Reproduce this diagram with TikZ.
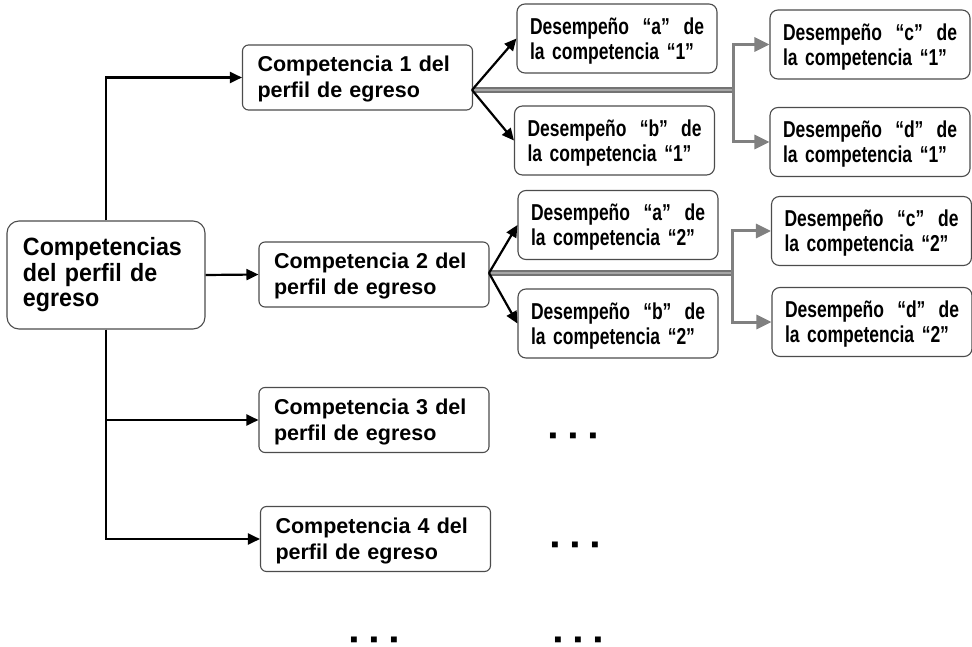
\documentclass[tikz,border=0pt]{standalone}
\usepackage{fontspec}
\setmainfont{Liberation Sans}
\newfontfamily\condfont{Liberation Sans}[FakeStretch=0.76]
\newfontfamily\leftfont{Liberation Sans}[FakeStretch=0.93]
\usetikzlibrary{arrows.meta}
\newcommand{\desemp}[2]{\rule{0pt}{21pt}\makebox[174pt][l]{Desempeño\hfill “#1”\hfill de}\\la competencia “#2”}
\newcommand{\sqdots}{\makebox[20pt]{■}\makebox[20pt]{■}\makebox[20pt]{■}}
\begin{document}
\begin{tikzpicture}[x=1pt,y=-1pt,
 box/.style={draw=black!70, line width=1.1pt, rounded corners=8pt, fill=white, inner sep=0pt, align=left},
 dbox/.style={box, minimum width=200pt, minimum height=69pt, text width=174pt, font=\condfont\fontsize{23}{25}\selectfont\bfseries},
 cbox/.style={box, rounded corners=6pt, minimum width=230pt, minimum height=65pt, text width=200pt, font=\fontsize{21.5}{26}\selectfont\bfseries},
 lbox/.style={box, rounded corners=12pt, minimum width=198pt, minimum height=108pt, text width=166pt, font=\leftfont\fontsize{25}{25.5}\selectfont\bfseries},
 arr/.style={draw=black, line width=2.2pt, -{Triangle[length=12pt,width=11pt]}},
 garr/.style={draw=black!50, line width=3pt, -{Triangle[length=15pt,width=14pt]}},
 trunk/.style={draw=black!55, line width=1.8pt, double=black!35, double distance=1.6pt},
 dots/.style={anchor=base, inner sep=0pt, font=\fontsize{12}{12}\selectfont}]
\useasboundingbox (0,0) rectangle (972,647);

\node[lbox] (L) at (106,275) {Competencias\\del perfil de\\egreso};
\node[cbox] (k1) at (357.5,77.5) {\rule{0pt}{19pt}Competencia 1 del\\perfil de egreso};
\node[cbox] (k2) at (374,274.5) {\rule{0pt}{19pt}Competencia 2 del\\perfil de egreso};
\node[cbox] (k3) at (374,420) {\rule{0pt}{19pt}Competencia 3 del\\perfil de egreso};
\node[cbox] (k4) at (375.5,539) {\rule{0pt}{19pt}Competencia 4 del\\perfil de egreso};

\node[dbox] (a1) at (617,38.5) {\desemp{a}{1}};
\node[dbox] (b1) at (614.5,140.5) {\desemp{b}{1}};
\node[dbox] (c1) at (870,44.5) {\desemp{c}{1}};
\node[dbox] (d1) at (870,142) {\desemp{d}{1}};
\node[dbox] (a2) at (618,225) {\desemp{a}{2}};
\node[dbox] (b2) at (618,323.5) {\desemp{b}{2}};
\node[dbox] (c2) at (871.5,231) {\desemp{c}{2}};
\node[dbox] (d2) at (872,322) {\desemp{d}{2}};

\coordinate (s1) at (472,90);
\coordinate (j1) at (733,90);
\coordinate (s2) at (489,273);
\coordinate (j2) at (732,273);

\draw[arr] (L.north) |- (k1.west);
\draw[arr] (L.east) -- (k2.west);
\draw[arr] (L.south) |- (k3.west);
\draw[arr] (L.south) |- (k4.west);

\draw[trunk] (s1) -- (j1);
\draw[garr] (j1) |- (c1.west);
\draw[garr] (j1) |- (d1.west);
\draw[arr] (s1) -- (a1.west);
\draw[arr] (s1) -- (b1.west);

\draw[trunk] (s2) -- (j2);
\draw[garr] (j2) |- (c2.west);
\draw[garr] (j2) |- (d2.west);
\draw[arr] (s2) -- (a2.west);
\draw[arr] (s2) -- (b2.west);

\node[dots] (e1) at (573,439.5) {\sqdots};
\node[dots] (e2) at (575,548.5) {\sqdots};
\node[dots] (e3) at (374,643) {\sqdots};
\node[dots] (e4) at (578,643) {\sqdots};
\end{tikzpicture}
\end{document}
